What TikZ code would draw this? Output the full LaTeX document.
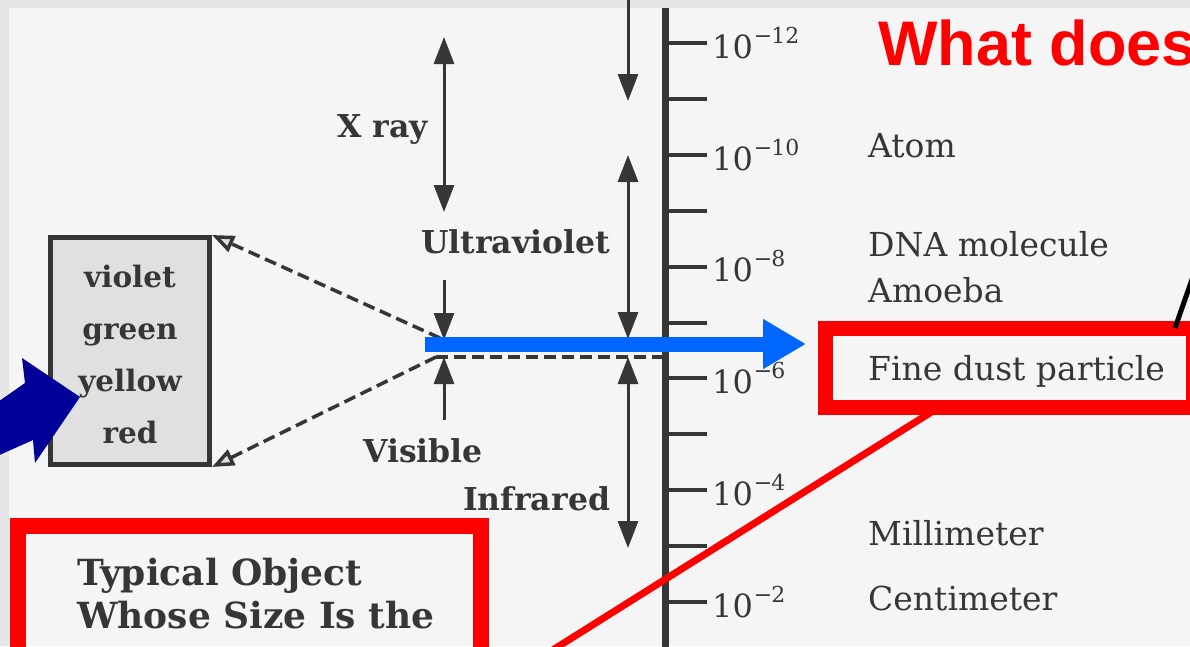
\documentclass[tikz,border=0pt]{standalone}
\usepackage{fontspec}
\setmainfont{DejaVu Serif}
\newfontfamily\titlefont{Liberation Sans}
\usetikzlibrary{arrows.meta}
\definecolor{ink}{HTML}{363636}
\definecolor{paper}{HTML}{F5F5F5}
\definecolor{strip}{HTML}{E6E6E6}
\definecolor{boxfill}{HTML}{E0E0E0}
\definecolor{navy}{HTML}{000099}
\definecolor{brightblue}{HTML}{0066FF}
\definecolor{hlred}{HTML}{FF0000}
\newcommand\tenpow[1]{10\kern1pt\raisebox{15pt}{\fontsize{22}{24}\selectfont −\kern-1pt#1}}
\begin{document}
\begin{tikzpicture}[x=1pt,y=-1pt,
  lbl/.style={inner sep=0pt, anchor=base west, text=ink, font=\fontsize{33}{38}\selectfont},
  powlbl/.style={inner sep=0pt, anchor=base west, text=ink, font=\fontsize{32}{36}\selectfont},
  band/.style={inner sep=0pt, text=ink, font=\bfseries\fontsize{31.5}{34}\selectfont},
  colour/.style={inner sep=0pt, anchor=base, text=ink, font=\bfseries\fontsize{29.5}{32}\selectfont},
  tickmark/.style={draw=ink, line width=4pt},
  span/.style={draw=ink, line width=3pt, {Triangle[length=27pt,width=20pt]}-{Triangle[length=27pt,width=20pt]}},
  oneway/.style={draw=ink, line width=3pt, -{Triangle[length=27pt,width=20pt]}},
  dashlink/.style={draw=ink, line width=3.5pt, dash pattern=on 12pt off 6pt, -{Triangle[open,length=22pt,width=17pt,fill=boxfill]}},
  hlbox/.style={draw=hlred, line width=15pt, inner sep=0pt},
  typtext/.style={inner sep=0pt, anchor=base west, text=ink, font=\bfseries\fontsize{36}{43}\selectfont},
]
\useasboundingbox (0,0) rectangle (1190,646);
\clip (0,0) rectangle (1190,646);
% background
\fill[paper] (0,0) rectangle (1190,646);
\fill[strip] (0,0) rectangle (1190,8);
\fill[strip] (0,0) rectangle (9,646);

% scale axis
\coordinate (axtop) at (665,8);
\coordinate (axbot) at (665,650);
\draw[ink, line width=7pt] (axtop) -- (axbot);
\foreach \k in {0,...,10} {
  \coordinate (t\k) at (668,43+55.9*\k);
  \coordinate (te\k) at (707,43+55.9*\k);
  \draw[tickmark] (t\k) -- (te\k);
}
\node[powlbl] (p12) at (712,58) {\tenpow{12}};
\node[powlbl] (p10) at (712,170) {\tenpow{10}};
\node[powlbl] (p8) at (712,281) {\tenpow{8}};
\node[powlbl] (p6) at (712,393) {\tenpow{6}};
\node[powlbl] (p4) at (712,505) {\tenpow{4}};
\node[powlbl] (p2) at (712,617) {\tenpow{2}};

% objects
\node[lbl] (atom) at (868,157) {Atom};
\node[lbl] (dna) at (868,256) {DNA molecule};
\node[lbl] (amoeba) at (868,302) {Amoeba};
\node[lbl] (dust) at (868,380) {Fine dust particle};
\node[lbl] (mm) at (868,545) {Millimeter};
\node[lbl] (cm) at (868,610) {Centimeter};

% band labels
\node[band, anchor=base east] (xray) at (428,137) {X ray};
\node[band, anchor=base west] (uv) at (421,253) {Ultraviolet};
\node[band, anchor=base west] (vis) at (363,462) {Visible};
\node[band, anchor=base west] (ir) at (463,510) {Infrared};

% left arrows
\coordinate (xa) at (444,37);
\coordinate (xb) at (444,212);
\draw[span] (xa) -- (xb);
\coordinate (va) at (444,280);
\coordinate (vb) at (444,340);
\draw[oneway] (va) -- (vb);
\coordinate (vc) at (444,420);
\coordinate (vd) at (444,357);
\draw[oneway] (vc) -- (vd);

% right arrows
\coordinate (ra) at (628,0);
\coordinate (rb) at (628,101);
\draw[oneway] (ra) -- (rb);
\coordinate (rc) at (628,155);
\coordinate (rd) at (628,339);
\draw[span] (rc) -- (rd);
\coordinate (re) at (628,357);
\coordinate (rf) at (628,548);
\draw[span] (re) -- (rf);

% dashed boundary line
\coordinate (dl) at (436,357);
\coordinate (dr) at (662,357);
\draw[ink, line width=3.5pt, dash pattern=on 12pt off 6pt] (dl) -- (dr);

% colour box
\node[draw=ink, line width=5pt, fill=boxfill, minimum width=159pt, minimum height=227pt, inner sep=0pt] (cbox) at (130,351) {};
\node[colour] (cviolet) at (130,287) {violet};
\node[colour] (cgreen) at (130,339) {green};
\node[colour] (cyellow) at (130,391) {yellow};
\node[colour] (cred) at (130,443) {red};
\coordinate (dsa) at (440,338);
\coordinate (dsb) at (436,357);
\draw[dashlink] (dsa) -- (cbox.north east);
\draw[dashlink] (dsb) -- (cbox.south east);

% blue arrow
\coordinate (bs) at (425,344);
\coordinate (be) at (806,344);
\draw[brightblue, line width=15pt, -{Triangle[length=43pt,width=47pt]}] (bs) -- (be);

% red highlight boxes
\node[hlbox, minimum width=368pt, minimum height=79pt] (dustbox) at (1009,367.5) {};
\node[hlbox, line width=16pt, minimum width=463pt, minimum height=188pt] (typbox) at (249,620) {};
\node[typtext] (typ1) at (77,585) {Typical Object};
\node[typtext] (typ2) at (77,628) {Whose Size Is the};

% red diagonal
\coordinate (rfoot) at (933,411);
\coordinate (rend) at (540,658);
\draw[hlred, line width=7pt] (rfoot) -- (rend);

% black line at right
\coordinate (bk1) at (1175,328);
\coordinate (bk2) at (1196,268);
\draw[black, line width=5pt] (bk1) -- (bk2);

% navy arrow
\fill[navy] (80,397) -- (22,358) -- (25,383) -- (-5,404) -- (-5,457) -- (33,440) -- (35,463) -- cycle;

% title
\node[inner sep=0pt, anchor=base west, text=hlred, font=\titlefont\bfseries\fontsize{63}{70}\selectfont] (title) at (878,65) {What does};
\end{tikzpicture}
\end{document}
